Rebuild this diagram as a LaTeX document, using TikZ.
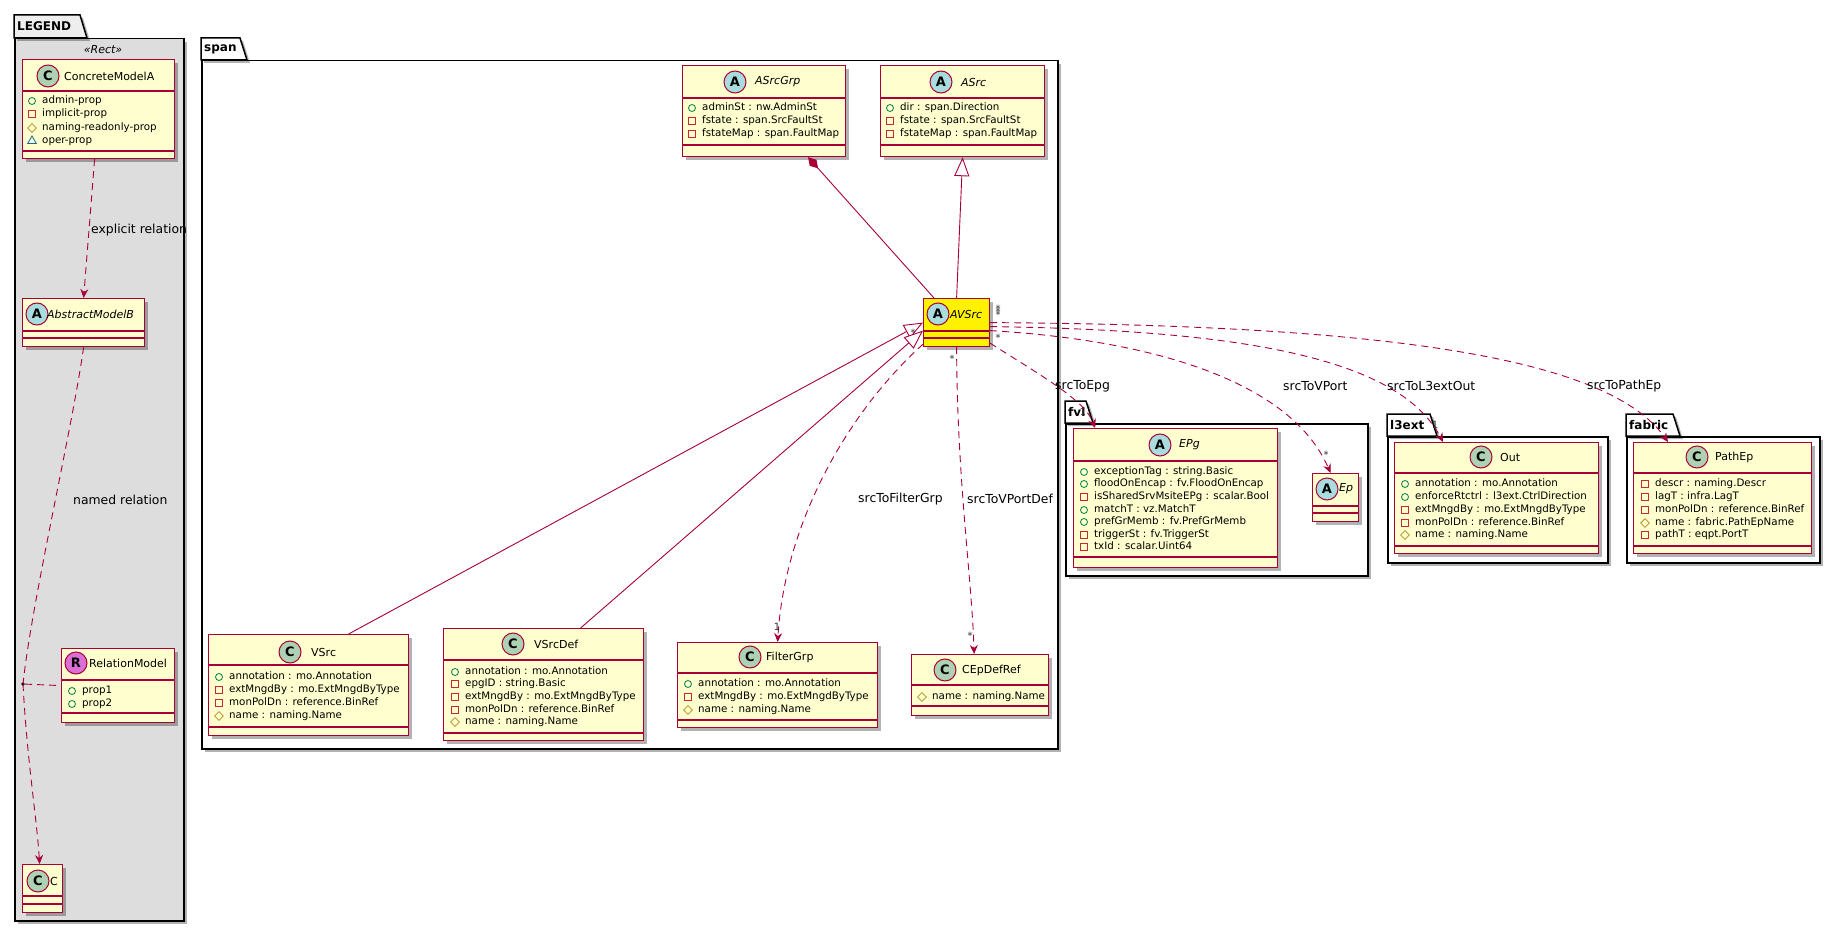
\documentclass[tikz,border=0pt]{standalone}
\usepackage{fontspec}
\setmainfont{DejaVu Sans}[ItalicFont={DejaVu Sans Oblique}, BoldFont={DejaVu Sans Bold}, BoldItalicFont={DejaVu Sans Bold Oblique}]
\usepackage{tikz}
\usetikzlibrary{positioning,calc,shapes.geometric,arrows.meta,shadows}

\definecolor{umlred}{HTML}{A80036}
\definecolor{classfill}{HTML}{FEFECE}
\definecolor{legendgray}{HTML}{DDDDDD}
\definecolor{cfill}{HTML}{ADD1B2}
\definecolor{afill}{HTML}{A9DCDF}
\definecolor{rfill}{HTML}{DA70D6}
\definecolor{pubcol}{HTML}{038048}
\definecolor{privcol}{HTML}{C82930}
\definecolor{protcol}{HTML}{B38D22}
\definecolor{pkgcol}{HTML}{1963A0}

\begin{document}
\begin{tikzpicture}[x=1pt, y=-1pt,
    shade/.style={drop shadow={shadow xshift=3pt, shadow yshift=-3pt, opacity=.3, fill=black}},
    pkgline/.style={draw=black, line width=1.5pt},
    pkgbody/.style={pkgline, shade, anchor=north west, inner sep=0pt},
    pkgname/.style={anchor=west, inner sep=0pt, font=\fontsize{12}{12}\selectfont\bfseries},
    umlclass/.style={draw=umlred, line width=1.2pt, shade, anchor=north west, inner sep=0pt},
    divider/.style={draw=umlred, line width=1.2pt},
    spot/.style={circle, draw=umlred, line width=1pt, minimum size=22pt, inner sep=0pt, font=\fontsize{13}{13}\selectfont\bfseries},
    cname/.style={anchor=west, inner sep=0pt, font=\fontsize{11}{13}\selectfont},
    aname/.style={anchor=west, inner sep=0pt, font=\fontsize{11}{13}\selectfont\itshape},
    attr/.style={anchor=west, inner sep=0pt, text height=7.5pt, text depth=2pt, font=\fontsize{10.3}{12}\selectfont},
    pub/.style={circle, draw=pubcol, line width=.8pt, minimum size=7pt, inner sep=0pt},
    priv/.style={rectangle, draw=privcol, line width=.8pt, minimum size=7pt, inner sep=0pt},
    prot/.style={diamond, draw=protcol, line width=.8pt, minimum size=9pt, inner sep=0pt},
    pkgvis/.style={regular polygon, regular polygon sides=3, draw=pkgcol, line width=.8pt, minimum size=10pt, inner sep=0pt},
    assoc/.style={draw=umlred, line width=.9pt, dash pattern=on 7pt off 5pt},
    dep/.style={assoc, -{Stealth[length=9pt, width=8pt, inset=3pt]}},
    gen/.style={draw=umlred, line width=.9pt, -{Triangle[length=19pt, width=15pt, fill=white]}},
    comp/.style={draw=umlred, line width=.9pt, {Diamond[length=15pt, width=9pt]}-},
    elabel/.style={anchor=west, inner sep=0pt, font=\fontsize{12.4}{14}\selectfont},
    mult/.style={inner sep=0pt, font=\fontsize{10}{10}\selectfont, text=black!80}
]
    \fill[white] (0,0) rectangle (1840,931);

    % LEGEND package
    \node[pkgbody, fill=legendgray, minimum width=169pt, minimum height=882pt] (legend) at (14,38) {};
    \draw[pkgline, shade, fill=legendgray!50] (14,38) -- (14,15) -- (80,15) -- (87,38) -- cycle;
    \node[pkgname] (legend-tab) at (17,26.5) {LEGEND};
    \node[font=\fontsize{11}{13}\selectfont\itshape] (legend-stereo) at (103,50) {«Rect»};

    % other packages
    \foreach \n/\x/\y/\tr/\br/\w/\h/\txt in {span/201/38/240/247/856/688/span,
        fvl/1065/401/1086/1093/302/152/fvl,
        l3ext/1387/414/1430/1437/220/126/l3ext,
        fabric/1626/414/1673/1680/193/126/fabric} {
        \node[pkgbody, fill=white, minimum width=\w pt, minimum height=\h pt] (\n) at (\x,\y+22) {};
        \draw[pkgline, shade, fill=white] (\x,\y+22) -- (\x,\y) -- (\tr,\y) -- (\br,\y+22) -- cycle;
        \node[pkgname] (\n-tab) at (\x+3,\y+11) {\txt};
    }

    % class boxes
    \foreach \n/\x/\y/\w/\h/\hd/\bd/\f in {cma/22/59/152/99/32/92/classfill,
        amb/22/298/122/48/33/40/classfill,
        relm/61/648/113/74/32/65/classfill,
        cc/22/864/40/48/32/40/classfill,
        asrcgrp/682/65/163/91/33/80/classfill,
        asrc/880/65/164/91/33/80/classfill,
        avsrc/923/298/66/48/33/40/yellow,
        vsrc/208/634/200/101/31/93/classfill,
        vsrcdef/443/628/200/112/32/105/classfill,
        filtergrp/677/642/200/85/31/78/classfill,
        cepdefref/911/654/137/61/31/52/classfill,
        epg/1073/428/204/139/33/129/classfill,
        ep/1312/473/46/48/33/40/classfill,
        out/1394/442/204/111/31/104/classfill,
        pathep/1633/442/178/111/31/104/classfill} {
        \node[umlclass, fill=\f, minimum width=\w pt, minimum height=\h pt] (\n) at (\x,\y) {};
        \draw[divider] (\x,\y+\hd) -- ++(\w,0) (\x,\y+\bd) -- ++(\w,0);
    }

    % class headers
    \foreach \n/\cx/\cy/\l/\cf/\nx/\s/\txt in {cma/48/76/C/cfill/64/cname/ConcreteModelA,
        amb/37/314/A/afill/47/aname/AbstractModelB,
        relm/76/663/R/rfill/89/cname/RelationModel,
        cc/38/881/C/cfill/50/cname/C,
        asrcgrp/735/82/A/afill/755/aname/ASrcGrp,
        asrc/941/82/A/afill/961/aname/ASrc,
        avsrc/938/314/A/afill/950/aname/AVSrc,
        vsrc/290/652/C/cfill/311/cname/VSrc,
        vsrcdef/513/644/C/cfill/534/cname/VSrcDef,
        filtergrp/750/657/C/cfill/766/cname/FilterGrp,
        cepdefref/945/670/C/cfill/962/cname/CEpDefRef,
        epg/1160/445/A/afill/1179/aname/EPg,
        ep/1327/489/A/afill/1339/aname/Ep,
        out/1481/457/C/cfill/1500/cname/Out,
        pathep/1697/457/C/cfill/1715/cname/PathEp} {
        \node[spot, fill=\cf] (\n-spot) at (\cx,\cy) {\l};
        \node[\s] (\n-name) at (\nx,\cy) {\txt};
    }

    % attributes
    \foreach \n/\ix/\y/\k/\txt [count=\m] in {cma/32/101/pub/admin-prop,
        cma/32/114/priv/implicit-prop,
        cma/32/128/prot/naming-readonly-prop,
        cma/32/141/pkgvis/oper-prop,
        relm/72/691/pub/prop1,
        relm/72/704/pub/prop2,
        asrcgrp/692/108/pub/adminSt : nw.AdminSt,
        asrcgrp/692/121/priv/fstate : span.SrcFaultSt,
        asrcgrp/692/134/priv/fstateMap : span.FaultMap,
        asrc/890/108/pub/dir : span.Direction,
        asrc/890/121/priv/fstate : span.SrcFaultSt,
        asrc/890/134/priv/fstateMap : span.FaultMap,
        vsrc/219/677/pub/annotation : mo.Annotation,
        vsrc/219/690/priv/extMngdBy : mo.ExtMngdByType,
        vsrc/219/703/priv/monPolDn : reference.BinRef,
        vsrc/219/716/prot/name : naming.Name,
        vsrcdef/455/672/pub/annotation : mo.Annotation,
        vsrcdef/455/684/priv/epgID : string.Basic,
        vsrcdef/455/697/priv/extMngdBy : mo.ExtMngdByType,
        vsrcdef/455/710/priv/monPolDn : reference.BinRef,
        vsrcdef/455/722/prot/name : naming.Name,
        filtergrp/688/684/pub/annotation : mo.Annotation,
        filtergrp/688/697/priv/extMngdBy : mo.ExtMngdByType,
        filtergrp/688/710/prot/name : naming.Name,
        cepdefref/922/697/prot/name : naming.Name,
        epg/1084/472/pub/exceptionTag : string.Basic,
        epg/1084/484/pub/floodOnEncap : fv.FloodOnEncap,
        epg/1084/497/priv/isSharedSrvMsiteEPg : scalar.Bool,
        epg/1084/510/pub/matchT : vz.MatchT,
        epg/1084/522/pub/prefGrMemb : fv.PrefGrMemb,
        epg/1084/535/priv/triggerSt : fv.TriggerSt,
        epg/1084/547/priv/txId : scalar.Uint64,
        out/1405/484/pub/annotation : mo.Annotation,
        out/1405/497/pub/enforceRtctrl : l3ext.CtrlDirection,
        out/1405/510/priv/extMngdBy : mo.ExtMngdByType,
        out/1405/523/priv/monPolDn : reference.BinRef,
        out/1405/535/prot/name : naming.Name,
        pathep/1645/484/priv/descr : naming.Descr,
        pathep/1645/497/priv/lagT : infra.LagT,
        pathep/1645/510/priv/monPolDn : reference.BinRef,
        pathep/1645/523/prot/name : fabric.PathEpName,
        pathep/1645/535/priv/pathT : eqpt.PortT} {
        \node[\k] (\n-v\m) at (\ix,\y) {};
        \node[attr] (\n-a\m) at (\ix+10,\y) {\txt};
    }

    % legend relations
    \draw[dep] ($(cma.south)+(-4,0)$) -- (amb.north);
    \node[elabel] (explicit) at (91,230) {explicit relation};
    \node[circle, fill=black, inner sep=1.3pt] (rdot) at (23,684) {};
    \draw[assoc] (amb.south) .. controls (72,430) and (32,600) .. (rdot.center);
    \draw[dep] (rdot.center) .. controls (27,760) and (37,820) .. ($(cc.north)+(-3,0)$);
    \draw[assoc] (rdot) -- (relm.west);
    \node[elabel] (named) at (73,500) {named relation};

    % span relations
    \draw[comp] ($(asrcgrp.south)+(44,0)$) -- ($(avsrc.north west)+(11,0)$);
    \draw[gen] (avsrc.north) -- (asrc.south);
    \draw[gen] ($(vsrc.north)+(40,0)$) -- (avsrc.west);
    \draw[gen] ($(vsrcdef.north)+(37,0)$) -- ($(avsrc.west)+(0,8)$);
    \draw[dep] ($(avsrc.south west)+(0,-3)$) .. controls (850,410) and (785,520) .. (filtergrp.north);
    \draw[dep] (avsrc.south) .. controls (957,480) and (972,580) .. ($(cepdefref.north)+(-6,0)$);
    \node[elabel] (to-filtergrp) at (858,499) {srcToFilterGrp};
    \node[elabel] (to-vportdef) at (967,499) {srcToVPortDef};

    % outgoing relations
    \draw[dep] ($(avsrc.south east)+(0,-4)$) .. controls (1040,375) and (1085,400) .. ($(epg.north west)+(22,0)$);
    \draw[dep] ($(avsrc.east)+(0,8)$) .. controls (1150,340) and (1290,380) .. ($(ep.north)+(-5,0)$);
    \draw[dep] ($(avsrc.east)+(0,4)$) .. controls (1250,330) and (1400,360) .. ($(out.north west)+(49,0)$);
    \draw[dep] (avsrc.east) .. controls (1400,325) and (1610,360) .. ($(pathep.north west)+(35,0)$);
    \node[elabel] (to-epg) at (1055,386) {srcToEpg};
    \node[elabel] (to-vport) at (1283,386) {srcToVPort};
    \node[elabel] (to-l3extout) at (1387,386) {srcToL3extOut};
    \node[elabel] (to-pathep) at (1587,386) {srcToPathEp};

    % multiplicities
    \foreach \x/\y/\txt [count=\m] in {913/333/*, 952/359/*, 998/309/*, 998/312/*, 998/315/*, 998/338/*,
        777/627/1, 970/636/*, 1083/412/1, 1326/455/*, 1435/425/1} {
        \node[mult] (mult\m) at (\x,\y) {\txt};
    }
\end{tikzpicture}
\end{document}
